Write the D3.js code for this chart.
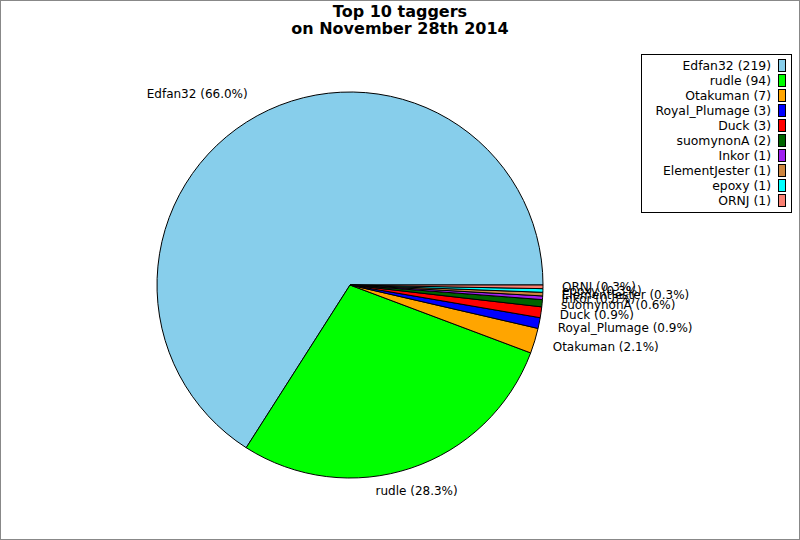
<!DOCTYPE html>
<html><head><meta charset="utf-8">
<script src="https://cdn.jsdelivr.net/npm/d3@7"></script>
<style>body{margin:0;background:#fff}svg{display:block;font-family:"DejaVu Sans",sans-serif}</style>
</head><body>
<script>
const names = ["Edfan32","rudle","Otakuman","Royal_Plumage","Duck","suomynonA","Inkor","ElementJester","epoxy","ORNJ"];
const counts = [219,94,7,3,3,2,1,1,1,1];
const colors = ["#87CEEB","#00FF00","#FFA500","#0000FF","#FF0000","#006400","#A020F0","#CD853F","#00FFFF","#FA8072"];
const titleLines = ["Top 10 taggers","on November 28th 2014"];

const W=800,H=540,cx=350,cy=285,R=193,LR=217;
const svg=d3.select("body").append("svg").attr("width",W).attr("height",H);
svg.append("rect").attr("x",0.5).attr("y",0.5).attr("width",W-1).attr("height",H-1).attr("fill","#fff").attr("stroke","#888");

const total=d3.sum(counts);
const data=names.map((n,i)=>({name:n,value:counts[i],color:colors[i]}));
const pie=d3.pie().sort(null).value(d=>d.value).startAngle(Math.PI/2).endAngle(Math.PI/2-2*Math.PI);
const arcs=pie(data);
const arc=d3.arc().innerRadius(0).outerRadius(R);
const g=svg.append("g").attr("transform",`translate(${cx},${cy})`);
g.selectAll("path").data(arcs).join("path").attr("d",arc).attr("fill",d=>d.data.color).attr("stroke","#000").attr("stroke-width",1);

const fmt=v=>(v/total*100).toFixed(1)+"%";
g.selectAll("text.lbl").data(arcs).join("text").attr("class","lbl")
 .each(function(d){
   const a=(d.startAngle+d.endAngle)/2;
   const s=Math.sin(a),c=-Math.cos(a);
   const x=LR*s,y=LR*c;
   const anchor=Math.abs(s)<0.4?"middle":(s<0?"end":"start");
   d3.select(this).attr("x",x+(anchor==="start"?-5:anchor==="end"?2:-2)).attr("y",y-0.5).attr("dy","0.35em").attr("text-anchor",anchor)
     .attr("font-size",12).attr("fill","#000").text(`${d.data.name} (${fmt(d.data.value)})`);
 });

const t=svg.append("text").attr("x",400).attr("text-anchor","middle").attr("font-size",16).attr("font-weight","bold");
titleLines.forEach((l,i)=>t.append("tspan").attr("x",400).attr("y",17+i*17).text(l));

const lg=svg.append("g");
lg.append("rect").attr("x",641.5).attr("y",54.5).attr("width",150).attr("height",158).attr("fill","#fff").attr("stroke","#000");
data.forEach((d,i)=>{
  const y=66+i*15;
  lg.append("text").attr("x",771).attr("y",y).attr("dy","0.35em").attr("text-anchor","end").attr("font-size",12.4).text(`${d.name} (${d.value})`);
  lg.append("rect").attr("x",778.5).attr("y",y-6.5).attr("width",7).attr("height",12).attr("fill",d.color).attr("stroke","#000");
});
</script>
</body></html>
